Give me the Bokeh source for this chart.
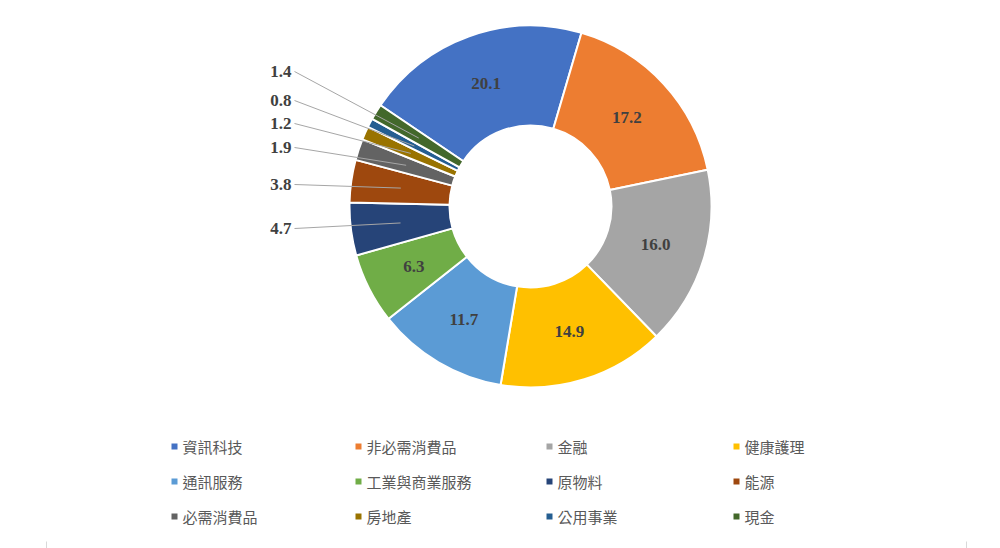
import math
from bokeh.plotting import figure
from bokeh.models import Range1d
from bokeh.core.properties import value
from bokeh.embed import file_html
from bokeh.resources import INLINE

categories = ["資訊科技", "非必需消費品", "金融", "健康護理", "通訊服務", "工業與商業服務",
              "原物料", "能源", "必需消費品", "房地產", "公用事業", "現金"]
values = [20.1, 17.2, 16.0, 14.9, 11.7, 6.3, 4.7, 3.8, 1.9, 1.2, 0.8, 1.4]
colors = ["#4472C4", "#ED7D31", "#A5A5A5", "#FFC000", "#5B9BD5", "#70AD47",
          "#264478", "#9E480E", "#636363", "#997300", "#255E91", "#43682B"]

# layout
W, H = 1000, 548
cx, cy = 530, H - 206
r_in, r_out = 81, 181
r_lab = (r_in + r_out) / 2
start_deg = -56.0  # clockwise from 12 o'clock
n_inside = 6
outside_label_y = [228, 184, 147, 123, 100, 71]  # pixel rows for slices 7..12
outside_label_x = 291

p = figure(width=W, height=H, x_range=Range1d(0, W), y_range=Range1d(0, H),
           output_backend="svg", toolbar_location=None, min_border=0)
p.axis.visible = False
p.grid.visible = False
p.outline_line_color = None

total = sum(values)
starts, ends, mids = [], [], []
acc = start_deg
for v in values:
    a0 = acc
    a1 = acc + v / total * 360.0
    starts.append(math.pi / 2 - math.radians(a0))
    ends.append(math.pi / 2 - math.radians(a1))
    mids.append(math.radians((a0 + a1) / 2))
    acc = a1

p.annular_wedge(x=cx, y=cy, inner_radius=r_in, outer_radius=r_out,
                start_angle=starts, end_angle=ends, direction="clock",
                fill_color=colors, line_color="white", line_width=2)

mx = [cx + r_lab * math.sin(m) for m in mids]
my = [cy + r_lab * math.cos(m) for m in mids]

lab_font = value("Liberation Serif")
p.text(x=mx[:n_inside], y=my[:n_inside], text=[f"{v:.1f}" for v in values[:n_inside]],
       text_font=lab_font, text_font_style="bold", text_font_size="17px",
       text_color="#404040", text_align="center", text_baseline="middle")

oy = [H - y for y in outside_label_y]
p.segment(x0=[outside_label_x + 3] * len(oy), y0=oy, x1=mx[n_inside:], y1=my[n_inside:],
          line_color="#A6A6A6", line_width=1)
p.text(x=[outside_label_x] * len(oy), y=oy, text=[f"{v:.1f}" for v in values[n_inside:]],
       text_font=lab_font, text_font_style="bold", text_font_size="17px",
       text_color="#404040", text_align="right", text_baseline="middle")

# legend
col_x = [174, 358, 549, 736]
row_y = [446, 481, 516]
lx, ly = [], []
for i in range(len(categories)):
    lx.append(col_x[i % 4])
    ly.append(H - row_y[i // 4])
p.scatter(x=lx, y=ly, marker="square", size=6, fill_color=colors, line_color=None)
p.text(x=[x + 8 for x in lx], y=ly, text=categories,
       text_font=value("Noto Sans CJK TC"), text_font_size="15px",
       text_color="#595959", text_align="left", text_baseline="middle")

# faint frame ticks at bottom
p.segment(x0=[46, 966], y0=[0, 0], x1=[46, 966], y1=[7, 7], line_color="#D9D9D9", line_width=1)

open("out.html", "w").write(file_html(p, INLINE))
